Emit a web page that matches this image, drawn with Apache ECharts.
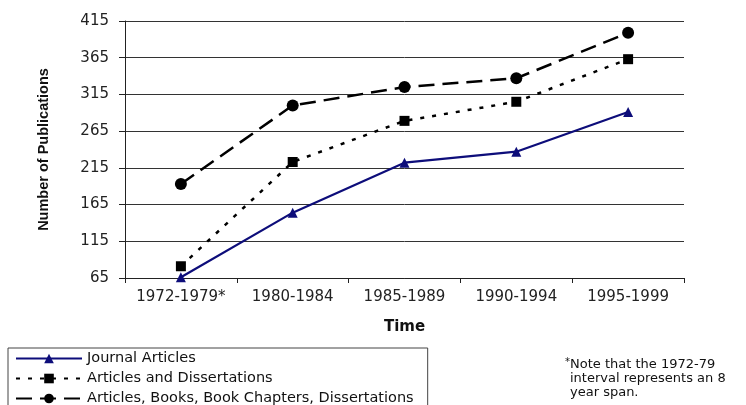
<!DOCTYPE html>
<html>
<head>
<meta charset="utf-8">
<script src="https://cdn.jsdelivr.net/npm/echarts@6/dist/echarts.min.js"></script>
<style>
  html, body { margin: 0; padding: 0; background: #ffffff; }
  #chart { width: 746px; height: 405px; }
</style>
</head>
<body>
<div id="chart"></div>
<script>
// Publication counts per time interval
var periods = ['1972-1979*', '1980-1984', '1985-1989', '1990-1994', '1995-1999'];
var journalArticles = [66, 154, 222, 237, 291];
var articlesDissertations = [81, 223, 279, 305, 363];
var allPublications = [193, 300, 325, 337, 399];
var yTicks = [65, 115, 165, 215, 265, 315, 365, 415];

var seriesNames = [
  'Journal Articles',
  'Articles and Dissertations',
  'Articles, Books, Book Chapters, Dissertations'
];

var chart = echarts.init(document.getElementById('chart'), null, { renderer: 'canvas' });

var font = 'DejaVu Sans, Arial, sans-serif';

chart.setOption({
  backgroundColor: '#ffffff',
  animation: false,
  grid: { left: 125, right: 62, top: 21, bottom: 127, containLabel: false },
  xAxis: {
    type: 'category',
    data: periods,
    boundaryGap: true,
    name: 'Time',
    nameLocation: 'middle',
    nameGap: 42,
    nameTextStyle: { fontFamily: font, fontWeight: 'bold', fontSize: 15, color: '#111' },
    axisLine: { lineStyle: { color: '#222', width: 1 } },
    axisTick: { show: true, alignWithLabel: false, length: 5, lineStyle: { color: '#222' } },
    axisLabel: { fontFamily: font, fontSize: 15, color: '#222', margin: 12, interval: 0 },
    splitLine: { show: false }
  },
  yAxis: {
    type: 'value',
    min: yTicks[0],
    max: yTicks[yTicks.length - 1],
    interval: yTicks[1] - yTicks[0],
    name: 'Number of Publications',
    nameLocation: 'middle',
    nameRotate: 90,
    nameGap: 74,
    nameTextStyle: { fontFamily: 'Liberation Sans, Arial, sans-serif', fontWeight: 'bold', fontSize: 14.5, color: '#111' },
    axisLine: { show: true, lineStyle: { color: '#222', width: 1 } },
    axisTick: { show: true, length: 6, lineStyle: { color: '#222' } },
    axisLabel: { fontFamily: font, fontSize: 15, color: '#222', margin: 16 },
    splitLine: { show: true, lineStyle: { color: '#333', width: 1 } }
  },
  legend: {
    orient: 'vertical',
    left: 8,
    top: 348,
    height: 90,
    padding: [3, 14, 4, 7],
    itemGap: 5,
    itemWidth: 66,
    itemHeight: 12,
    borderColor: '#444',
    borderWidth: 1,
    textStyle: { fontFamily: font, fontSize: 14.5, color: '#111' },
    data: seriesNames
  },
  graphic: [
    {
      type: 'text',
      left: 565,
      top: 357,
      style: {
        text: '*',
        font: '10px ' + font,
        fill: '#111'
      }
    },
    {
      type: 'text',
      left: 570,
      top: 358,
      style: {
        text: 'Note that the 1972-79\ninterval represents an 8\nyear span.',
        font: '13px ' + font,
        lineHeight: 14,
        fill: '#111'
      }
    }
  ],
  series: [
    {
      name: seriesNames[0],
      type: 'line',
      data: journalArticles,
      symbol: 'triangle',
      symbolSize: 10,
      color: '#0d0d7a',
      lineStyle: { color: '#0d0d7a', width: 2.2, type: 'solid' },
      itemStyle: { color: '#0d0d7a' }
    },
    {
      name: seriesNames[1],
      type: 'line',
      data: articlesDissertations,
      symbol: 'rect',
      symbolSize: 10,
      color: '#000000',
      lineStyle: { color: '#000000', width: 2.5, type: [4, 8] },
      itemStyle: { color: '#000000' }
    },
    {
      name: seriesNames[2],
      type: 'line',
      data: allPublications,
      symbol: 'circle',
      symbolSize: 12,
      color: '#000000',
      lineStyle: { color: '#000000', width: 2.5, type: [16, 8] },
      itemStyle: { color: '#000000' }
    }
  ]
});
</script>
</body>
</html>
